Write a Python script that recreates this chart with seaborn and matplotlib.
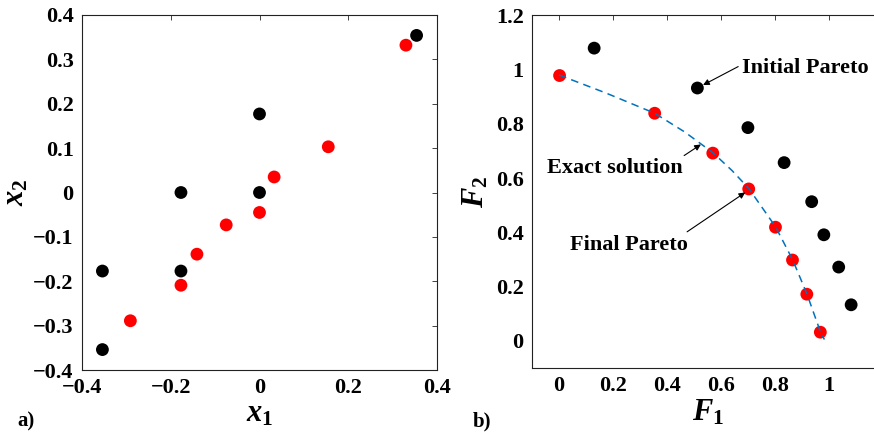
import numpy as np
import pandas as pd
import matplotlib
matplotlib.use("Agg")
import matplotlib.pyplot as plt
import seaborn as sns

# ---------------- data ----------------
# panel a) design space
init_x1 = [0.354, 0.0, -0.177, 0.0, -0.354, -0.177, -0.354]
init_x2 = [0.354, 0.177, 0.0, 0.0, -0.177, -0.177, -0.354]
final_x1 = [0.330, 0.155, 0.033, 0.0, -0.075, -0.141, -0.177, -0.291]
final_x2 = [0.332, 0.103, 0.035, -0.045, -0.073, -0.139, -0.209, -0.289]

# panel b) objective space
init_F1 = [0.130, 0.512, 0.699, 0.833, 0.935, 0.980, 1.035, 1.081]
init_F2 = [1.079, 0.932, 0.786, 0.657, 0.513, 0.391, 0.272, 0.133]
final_F1 = [0.002, 0.354, 0.569, 0.702, 0.801, 0.864, 0.917, 0.967]
final_F2 = [0.978, 0.839, 0.692, 0.560, 0.419, 0.298, 0.172, 0.032]
exact_F1 = [0.0, 0.175, 0.354, 0.465, 0.569, 0.64, 0.702, 0.801, 0.864, 0.917, 0.967, 0.982]
exact_F2 = [0.980, 0.913, 0.839, 0.770, 0.694, 0.628, 0.562, 0.421, 0.300, 0.174, 0.034, 0.005]

a_xticks = [-0.4, -0.2, 0.0, 0.2, 0.4]
a_xticklabels = ["\u22120.4", "\u22120.2", "0", "0.2", "0.4"]
a_yticks = [-0.4, -0.3, -0.2, -0.1, 0.0, 0.1, 0.2, 0.3, 0.4]
a_yticklabels = ["\u22120.4", "\u22120.3", "\u22120.2", "\u22120.1", "0", "0.1", "0.2", "0.3", "0.4"]
b_xticks = [0.0, 0.2, 0.4, 0.6, 0.8, 1.0]
b_xticklabels = ["0", "0.2", "0.4", "0.6", "0.8", "1"]
b_yticks = [0.0, 0.2, 0.4, 0.6, 0.8, 1.0, 1.2]
b_yticklabels = ["0", "0.2", "0.4", "0.6", "0.8", "1", "1.2"]

# ---------------- style ----------------
sns.set_style("white")
plt.rcParams["font.family"] = ["Liberation Serif", "DejaVu Serif"]
plt.rcParams["font.weight"] = "bold"
plt.rcParams["text.color"] = "black"
plt.rcParams["axes.labelcolor"] = "black"
plt.rcParams["xtick.color"] = "black"
plt.rcParams["ytick.color"] = "black"
plt.rcParams["mathtext.fontset"] = "custom"
plt.rcParams["mathtext.it"] = "Liberation Serif:italic:bold"
plt.rcParams["mathtext.rm"] = "Liberation Serif:bold"
plt.rcParams["mathtext.bf"] = "Liberation Serif:bold"

df_a = pd.DataFrame({
    "x": init_x1 + final_x1,
    "y": init_x2 + final_x2,
    "set": ["Initial"] * len(init_x1) + ["Final"] * len(final_x1),
})
df_b = pd.DataFrame({
    "x": init_F1 + final_F1,
    "y": init_F2 + final_F2,
    "set": ["Initial"] * len(init_F1) + ["Final"] * len(final_F1),
})
df_exact = pd.DataFrame({"x": exact_F1, "y": exact_F2})
palette = {"Initial": "black", "Final": "#ff0000"}

fig = plt.figure(figsize=(8.74, 4.32), dpi=100)
ax1 = fig.add_axes([82 / 874, (432 - 370) / 432, 355 / 874, 355 / 432])
ax2 = fig.add_axes([532 / 874, (432 - 368) / 432, 351.3 / 874, 352.7 / 432])

ms = 85
sns.scatterplot(data=df_a, x="x", y="y", hue="set", palette=palette, s=ms,
                linewidth=0, legend=False, ax=ax1, zorder=3)
sns.lineplot(data=df_exact, x="x", y="y", sort=False, color="#0072BD",
             linewidth=1.1, dashes=False, ax=ax2, zorder=2, estimator=None)
ax2.lines[-1].set_dashes([5, 3.5])
sns.scatterplot(data=df_b, x="x", y="y", hue="set", palette=palette, s=ms,
                linewidth=0, legend=False, ax=ax2, zorder=3)
ax2.lines[-1].set_zorder(4)

ax1.set_xlim(-0.4, 0.4)
ax1.set_ylim(-0.4, 0.4)
ax1.set_xticks(a_xticks)
ax1.set_xticklabels(a_xticklabels)
ax1.set_yticks(a_yticks)
ax1.set_yticklabels(a_yticklabels)

ax2.set_xlim(-0.1, 1.2)
ax2.set_ylim(-0.1, 1.2)
ax2.set_xticks(b_xticks)
ax2.set_xticklabels(b_xticklabels)
ax2.set_yticks(b_yticks)
ax2.set_yticklabels(b_yticklabels)

for ax in (ax1, ax2):
    for sp in ax.spines.values():
        sp.set_visible(True)
        sp.set_color("#222222")
        sp.set_linewidth(0.8)
    ax.tick_params(direction="in", length=3.5, width=0.6, color="#222222",
                   labelcolor="black", top=True, right=True, labelsize=16, pad=6)
    for lab in ax.get_xticklabels() + ax.get_yticklabels():
        lab.set_fontweight("bold")

ax1.set_xlabel(r"$x_1$", fontsize=22, labelpad=1, color="black")
ax1.set_ylabel(r"$x_2$", fontsize=22, labelpad=2, color="black")
ax2.set_xlabel(r"$F_1$", fontsize=22, labelpad=1, color="black")
ax2.set_ylabel(r"$F_2$", fontsize=22, labelpad=4, color="black")

fig.text(17 / 874, 1 - 421 / 432, "a)", fontsize=15, fontweight="bold",
         va="center", color="black")
fig.text(473 / 874, 1 - 421 / 432, "b)", fontsize=15, fontweight="bold",
         va="center", color="black")

arrow = dict(arrowstyle="-|>", color="black", lw=0.8, mutation_scale=9,
             shrinkA=0, shrinkB=0)
ax2.annotate("", xy=(0.533, 0.943), xytext=(0.663, 1.011), arrowprops=arrow, zorder=5)
ax2.text(0.677, 1.006, "Initial Pareto", fontsize=16, fontweight="bold",
         ha="left", va="center", color="black")
ax2.annotate("", xy=(0.525, 0.724), xytext=(0.463, 0.683), arrowprops=arrow, zorder=5)
ax2.text(-0.046, 0.637, "Exact solution", fontsize=16, fontweight="bold",
         ha="left", va="center", color="black")
ax2.annotate("", xy=(0.689, 0.547), xytext=(0.474, 0.402), arrowprops=arrow, zorder=5)
ax2.text(0.040, 0.353, "Final Pareto", fontsize=16, fontweight="bold",
         ha="left", va="center", color="black")

fig.savefig("out.png", dpi=100)
